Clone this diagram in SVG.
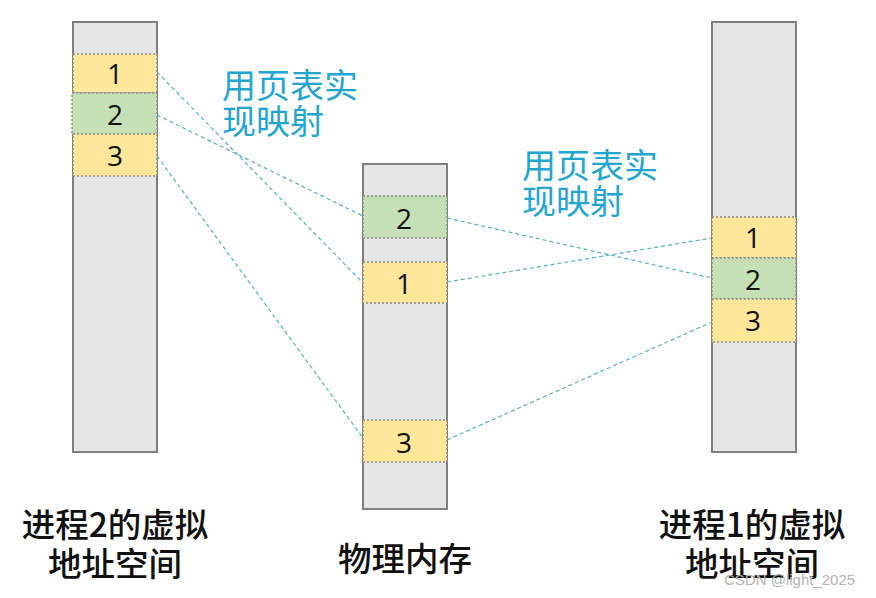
<svg xmlns="http://www.w3.org/2000/svg" width="876" height="598" viewBox="0 0 876 598">
  <style>
    .col { fill: #e6e6e6; stroke: #7f7f7f; stroke-width: 2; }
    .seg { stroke: #8a8a8a; stroke-width: 1.5; stroke-dasharray: 2 2; }
    .yel { fill: #ffe699; }
    .grn { fill: #c5e0b4; }
    .num { font-family: "Open Sans", "Liberation Sans", sans-serif; font-size: 28px; fill: #111; text-anchor: middle; }
    .map { font-family: "Noto Sans CJK SC", sans-serif; font-size: 34px; fill: #22a6d0; }
    .cap { font-family: "Noto Sans CJK SC", sans-serif; font-size: 33.5px; fill: #111; text-anchor: middle; font-weight: 500; }
    .link { fill: none; stroke: #55b3bf; stroke-width: 1.2; stroke-dasharray: 4 3; }
    .wm { font-family: "Liberation Sans", sans-serif; font-size: 15px; fill: #b4b4b4; }
  </style>

  <rect width="876" height="598" fill="#ffffff"/>

  <!-- process 2 virtual address space -->
  <g id="proc2">
    <rect class="col" x="73" y="22" width="84" height="430"/>
    <rect class="seg yel" x="73" y="54" width="84" height="39"/>
    <rect class="seg grn" x="72" y="93" width="85" height="41"/>
    <rect class="seg yel" x="73" y="134" width="84" height="42"/>
    <text class="num" x="115" y="84">1</text>
    <text class="num" x="115" y="125">2</text>
    <text class="num" x="115" y="166">3</text>
  </g>

  <!-- physical memory -->
  <g id="phys">
    <rect class="col" x="363" y="164" width="84" height="345"/>
    <rect class="seg grn" x="363" y="196" width="84" height="42"/>
    <rect class="seg yel" x="363" y="262" width="84" height="41"/>
    <rect class="seg yel" x="363" y="420" width="84" height="42"/>
    <text class="num" x="404" y="229">2</text>
    <text class="num" x="404" y="294">1</text>
    <text class="num" x="404" y="453">3</text>
  </g>

  <!-- process 1 virtual address space -->
  <g id="proc1">
    <rect class="col" x="712" y="22" width="84" height="430"/>
    <rect class="seg yel" x="712" y="217" width="84" height="41"/>
    <rect class="seg grn" x="712" y="258" width="84" height="41"/>
    <rect class="seg yel" x="712" y="299" width="84" height="43"/>
    <text class="num" x="753" y="248">1</text>
    <text class="num" x="753" y="290">2</text>
    <text class="num" x="753" y="331">3</text>
  </g>

  <!-- page table mappings -->
  <g id="links">
    <line class="link" x1="157" y1="72" x2="363" y2="283"/>
    <line class="link" x1="157" y1="115" x2="363" y2="216"/>
    <line class="link" x1="157" y1="156" x2="363" y2="438"/>
    <line class="link" x1="447" y1="218" x2="712" y2="278"/>
    <line class="link" x1="447" y1="282" x2="712" y2="238"/>
    <line class="link" x1="447" y1="440" x2="712" y2="322"/>
  </g>

  <g id="label-map-left">
    <text class="map" x="222" y="98">用页表实</text>
    <text class="map" x="222" y="134">现映射</text>
  </g>
  <g id="label-map-right">
    <text class="map" x="522" y="178">用页表实</text>
    <text class="map" x="522" y="214">现映射</text>
  </g>

  <g id="cap-proc2">
    <text class="cap" x="115" y="537">进程2的虚拟</text>
    <text class="cap" x="115" y="576">地址空间</text>
  </g>
  <g id="cap-phys">
    <text class="cap" x="405" y="571">物理内存</text>
  </g>
  <g id="cap-proc1">
    <text class="cap" x="752" y="537">进程1的虚拟</text>
    <text class="cap" x="752" y="576">地址空间</text>
  </g>

  <text class="wm" x="724" y="585">CSDN @light_2025</text>
</svg>
